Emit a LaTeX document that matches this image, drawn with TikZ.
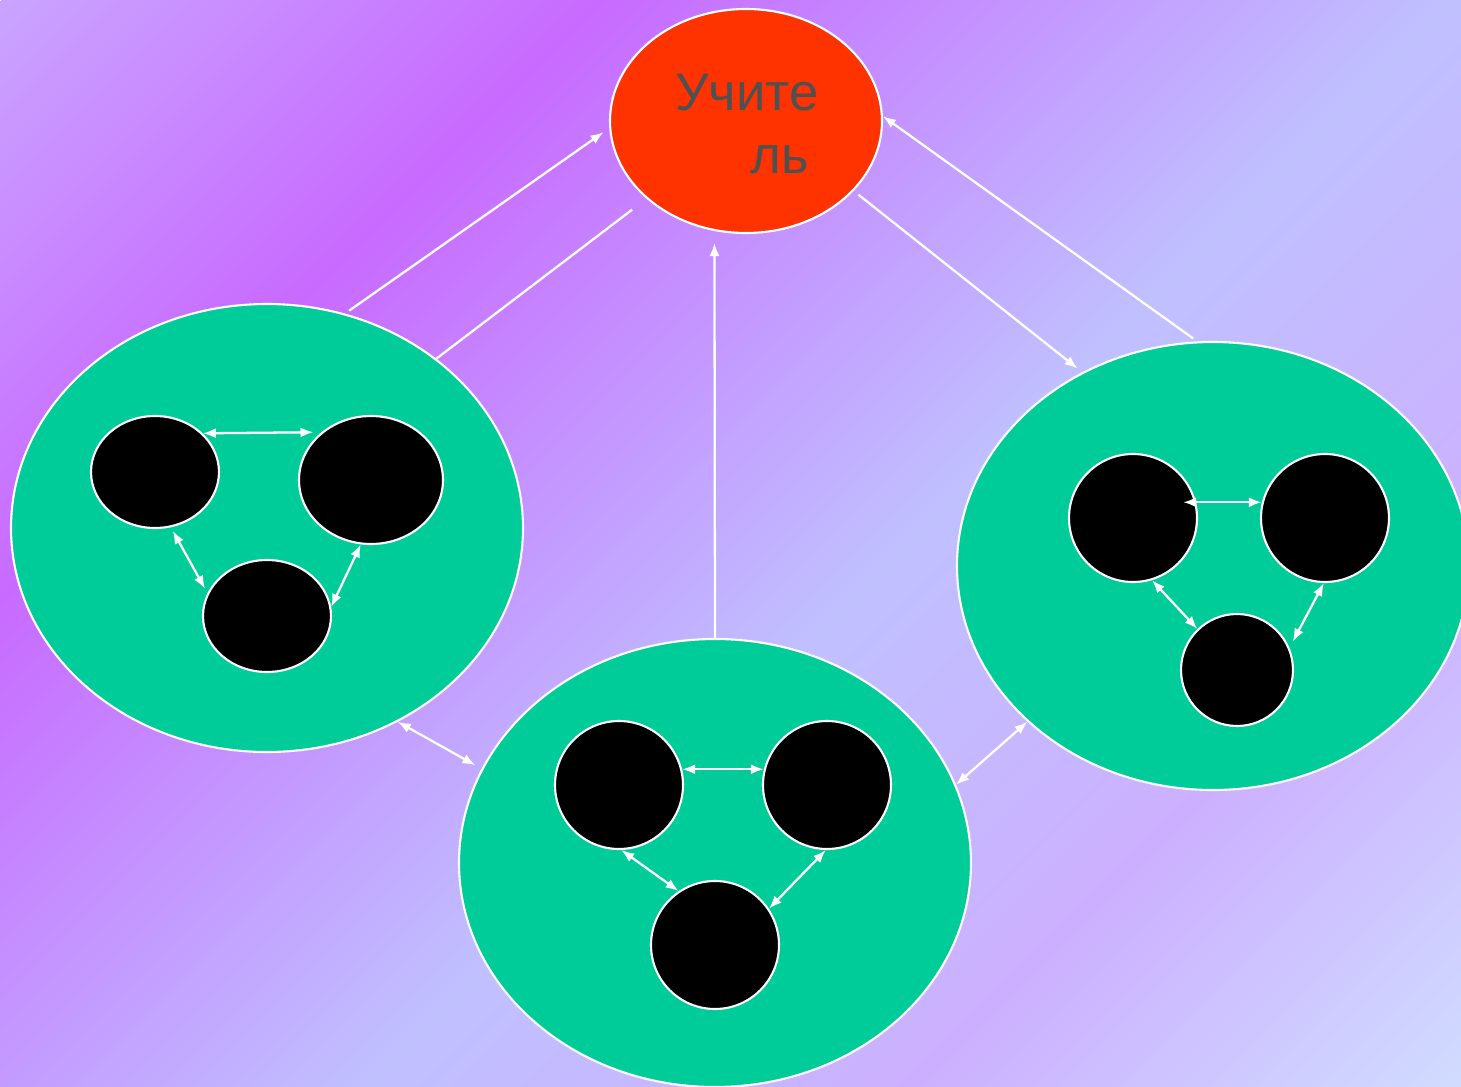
\documentclass[tikz,border=0pt]{standalone}
\usepackage{fontspec}
\setmainfont{Liberation Sans}
\usetikzlibrary{shapes.geometric,arrows.meta}

\definecolor{bgA}{HTML}{C9A4FF}
\definecolor{bgB}{HTML}{C86AFF}
\definecolor{bgC}{HTML}{C0C0FF}
\definecolor{bgD}{HTML}{CCB0FF}
\definecolor{bgE}{HTML}{D0DCFF}
\definecolor{teachred}{HTML}{FF3300}
\definecolor{teamgreen}{HTML}{00CC99}
\definecolor{labelgray}{HTML}{505050}

\pgfdeclarehorizontalshading{bgshade}{32cm}{color(0cm)=(bgA); color(4.24cm)=(bgB); color(10.25cm)=(bgC); color(14.14cm)=(bgD); color(18.02cm)=(bgE)}

\tikzset{
	team/.style={ellipse, draw=white, fill=teamgreen, line width=0.6pt, inner sep=0pt, minimum width=5.12cm, minimum height=4.48cm},
	pupil/.style={ellipse, draw=white, fill=black, line width=0.6pt, inner sep=0pt, minimum width=1.28cm, minimum height=1.28cm},
	conn/.style={draw=white, line width=0.65pt},
	oneway/.style={conn, -{Latex[length=1.3mm,width=1mm]}},
	twoway/.style={conn, {Latex[length=1.3mm,width=1mm]}-{Latex[length=1.3mm,width=1mm]}},
	lbl/.style={text=labelgray, font=\fontsize{15}{18}\selectfont, inner sep=0pt, anchor=base}
}

\begin{document}
\begin{tikzpicture}[x=0.1mm, y=-0.1mm]
		\clip (0,0) rectangle (1461,1087);
		
		%background
		\node[rotate=-45, anchor=west, inner sep=0pt] (bg) at (0,0) {\pgfuseshading{bgshade}};
		
		%groups
		\node[team] (grpL) at (267,528) {};
		\node[team] (grpB) at (715,863) {};
		\node[team] (grpR) at (1213,566) {};
		
		%pupils
		\node[pupil, minimum height=1.12cm] (L1) at (155,472) {};
		\node[pupil, minimum width=1.44cm] (L2) at (371,480) {};
		\node[pupil, minimum height=1.12cm] (L3) at (267,616) {};
		
		\node[pupil] (B1) at (619,785) {};
		\node[pupil] (B2) at (827,785) {};
		\node[pupil] (B3) at (715,945) {};
		
		\node[pupil] (R1) at (1133,518) {};
		\node[pupil] (R2) at (1325,518) {};
		\node[pupil, minimum width=1.12cm, minimum height=1.12cm] (R3) at (1237,670) {};
		
		%teacher
		\node[ellipse, draw=white, fill=teachred, line width=0.6pt, inner sep=0pt, minimum width=2.72cm, minimum height=2.24cm] (teacher) at (746,121) {};
		\node[lbl] (word1) at (747,110) {Учите};
		\node[lbl] (word2) at (780,173) {ль};
		
		%links to the teacher
		\draw[oneway, shorten <=0.5mm, shorten >=0.7mm] (grpL.70) -- (teacher.183);
		\draw[conn, shorten >=1.8mm] (grpL.45) -- (teacher.218);
		\draw[oneway, shorten >=1.2mm] (grpB.north) -- (teacher.254);
		\draw[oneway, shorten <=0.6mm, shorten >=0.6mm] (teacher.327) -- (grpR.124);
		\draw[oneway, shorten <=0.5mm] (grpR.94) -- (teacher.2);
		
		%links between groups
		\draw[twoway, shorten >=0.7mm] (grpL.304) -- (grpB.158);
		\draw[twoway] (grpB.18) -- (grpR.220);
		
		%links inside groups
		\draw[twoway, shorten >=0.8mm] (L1.39) -- (L2.136);
		\draw[twoway, shorten <=0.4mm, shorten >=0.5mm] (L1.286) -- (L3.159);
		\draw[twoway] (L2.261) -- (L3.8);
		
		\draw[twoway] (B1.14) -- (B2.166);
		\draw[twoway] (B1.272) -- (B3.124);
		\draw[twoway] (B2.269) -- (B3.34);
		
		\draw[twoway, shorten <=-1.3mm] (R1.14) -- (R2.166);
		\draw[twoway] (R1.287) -- (R3.134);
		\draw[twoway, shorten >=0.7mm] (R2.269) -- (R3.23);
		
\end{tikzpicture}
\end{document}
